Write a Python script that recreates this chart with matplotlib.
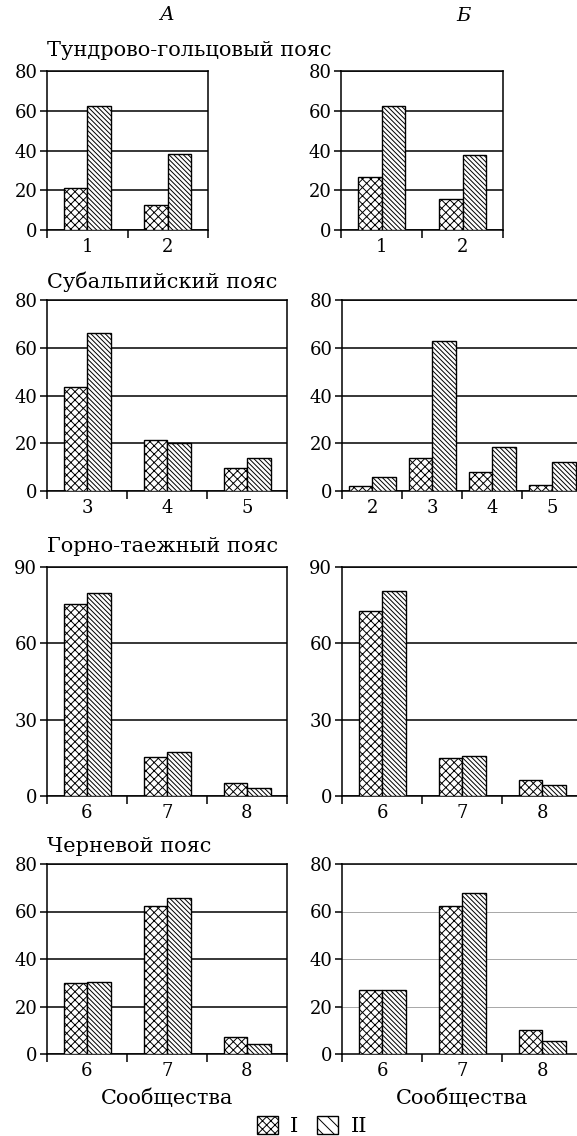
import matplotlib
matplotlib.use('Agg')
import matplotlib.pyplot as plt
from matplotlib.patches import Patch
import numpy as np

plt.rcParams['font.family'] = 'DejaVu Serif'
plt.rcParams['hatch.linewidth'] = 0.7

# data
tundra_cats = ['1', '2']
tundra_A_I = [21, 12.5]
tundra_A_II = [62.3, 38.2]
tundra_B_I = [26.8, 15.6]
tundra_B_II = [62.3, 37.5]

subalp_A_cats = ['3', '4', '5']
subalp_A_I = [43.6, 21.3, 9.8]
subalp_A_II = [66.0, 20.1, 14.0]
subalp_B_cats = ['2', '3', '4', '5']
subalp_B_I = [2.0, 13.8, 8.0, 2.7]
subalp_B_II = [5.9, 62.7, 18.5, 12.0]

taiga_cats = ['6', '7', '8']
taiga_A_I = [75.4, 15.4, 5.1]
taiga_A_II = [79.8, 17.2, 3.3]
taiga_B_I = [72.8, 15.1, 6.3]
taiga_B_II = [80.4, 15.6, 4.5]

chern_cats = ['6', '7', '8']
chern_A_I = [29.7, 62.3, 7.0]
chern_A_II = [30.4, 65.7, 4.2]
chern_B_I = [26.9, 62.3, 10.2]
chern_B_II = [26.9, 67.6, 5.5]

W, H = 577, 1136
fig = plt.figure(figsize=(W / 100, H / 100), dpi=100)

hatch_I = 'xxxx'
hatch_II = '\\' * 7
bar_px = 23.5
title_size = 15


def make_ax(x0, x1, ytop, ybot):
    return fig.add_axes([x0 / W, 1 - ybot / H, (x1 - x0) / W, (ybot - ytop) / H])


def draw(ax, cats, v1, v2, ymax, ystep, x0, x1, grid_color='black', grid_lw=1.1):
    n = len(cats)
    px_per_cat = (x1 - x0) / n
    w = bar_px / px_per_cat
    x = np.arange(n) + 0.5
    ax.bar(x - w / 2, v1, w, color='white', edgecolor='black', hatch=hatch_I,
           linewidth=1.0, zorder=3)
    ax.bar(x + w / 2, v2, w, color='white', edgecolor='black', hatch=hatch_II,
           linewidth=1.0, zorder=3)
    ax.set_xlim(0, n)
    ax.set_ylim(0, ymax)
    ax.set_yticks(np.arange(0, ymax + 1, ystep))
    ax.yaxis.grid(True, color=grid_color, linewidth=grid_lw, zorder=0)
    ax.set_axisbelow(True)
    ax.set_xticks(x)
    ax.set_xticklabels(cats)
    ax.set_xticks(np.arange(0, n + 1), minor=True)
    ax.tick_params(axis='x', which='major', length=0, labelsize=13, pad=6)
    ax.tick_params(axis='x', which='minor', length=6, width=1.1, direction='out')
    ax.tick_params(axis='y', length=5, width=1.1, labelsize=13, pad=2)
    for s in ax.spines.values():
        s.set_linewidth(1.1)


# row 1
a = make_ax(47, 208, 71, 230)
draw(a, tundra_cats, tundra_A_I, tundra_A_II, 80, 20, 47, 208)
a = make_ax(341, 503, 71, 230)
draw(a, tundra_cats, tundra_B_I, tundra_B_II, 80, 20, 341, 503)

# row 2
a = make_ax(47, 287, 300, 491)
draw(a, subalp_A_cats, subalp_A_I, subalp_A_II, 80, 20, 47, 287)
a = make_ax(342, 582, 300, 491)
draw(a, subalp_B_cats, subalp_B_I, subalp_B_II, 80, 20, 342, 582)

# row 3
a = make_ax(47, 287, 567, 796)
draw(a, taiga_cats, taiga_A_I, taiga_A_II, 90, 30, 47, 287)
a = make_ax(342, 582, 567, 796)
draw(a, taiga_cats, taiga_B_I, taiga_B_II, 90, 30, 342, 582)

# row 4
a = make_ax(47, 287, 864, 1054)
draw(a, chern_cats, chern_A_I, chern_A_II, 80, 20, 47, 287)
a.set_xlabel('Сообщества', fontsize=title_size, labelpad=6)
a = make_ax(342, 582, 864, 1054)
draw(a, chern_cats, chern_B_I, chern_B_II, 80, 20, 342, 582,
     grid_color='#999999', grid_lw=0.6)
a.set_xlabel('Сообщества', fontsize=title_size, labelpad=6)

# column and belt titles
fig.text(167 / W, 1 - 15 / H, 'А', fontsize=14, style='italic', ha='center', va='center')
fig.text(463 / W, 1 - 16 / H, 'Б', fontsize=14, style='italic', ha='center', va='center')
titles = [('Тундрово-гольцовый пояс', 50), ('Субальпийский пояс', 282),
          ('Горно-таежный пояс', 547), ('Черневой пояс', 846)]
for t, y in titles:
    fig.text(47 / W, 1 - y / H, t, fontsize=title_size, ha='left', va='center')

handles = [Patch(facecolor='white', edgecolor='black', hatch=hatch_I, label='I'),
           Patch(facecolor='white', edgecolor='black', hatch='\\\\\\', label='II')]
fig.legend(handles=handles, loc='center', bbox_to_anchor=(312 / W, 1 - 1126 / H),
           ncol=2, frameon=False, fontsize=15, handlelength=1.0, handleheight=1.0,
           columnspacing=0.9, handletextpad=0.6)

fig.savefig('out.png', dpi=100)
